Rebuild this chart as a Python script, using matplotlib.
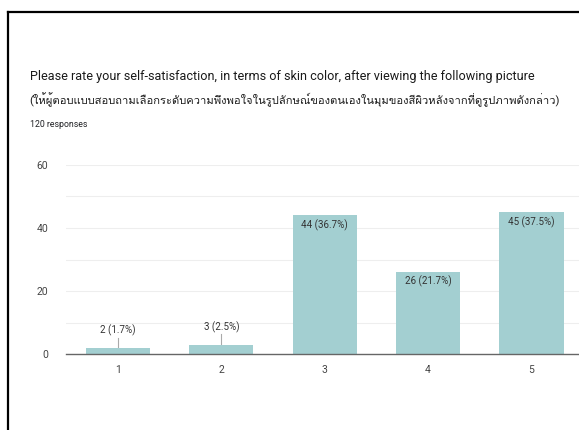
import matplotlib
matplotlib.use("Agg")
import matplotlib.pyplot as plt
from matplotlib import font_manager, ft2font

# survey results
ratings = ["1", "2", "3", "4", "5"]
counts = [2, 3, 44, 26, 45]
percents = ["1.7%", "2.5%", "36.7%", "21.7%", "37.5%"]
yticks = [0, 20, 40, 60]

title_en = "Please rate your self-satisfaction, in terms of skin color, after viewing the following picture"
title_th = "(ให้ผู้ตอบแบบสอบถามเลือกระดับความพึงพอใจในรูปลักษณ์ของตนเองในมุมของสีผิวหลังจากที่ดูรูปภาพดังกล่าว)"
subtitle = "120 responses"

# find something that can draw thai
thai_font = None
for f in font_manager.fontManager.ttflist:
    try:
        if ord("ก") in ft2font.FT2Font(f.fname).get_charmap():
            thai_font = f.name
            break
    except Exception:
        pass

fams = ["Roboto"] + ([thai_font] if thai_font else []) + ["DejaVu Sans"]
plt.rcParams["font.family"] = fams

fig = plt.figure(figsize=(5.79, 4.30), dpi=100)

# black frame around the card (left and top edges only visible)
fig.add_artist(plt.Line2D([0.0138, 0.0138], [0.0, 0.9720], color="black", lw=1.6))
fig.add_artist(plt.Line2D([0.0138, 1.0], [0.9720, 0.9720], color="black", lw=1.6))

t1 = fig.text(0.051, 0.815, title_en, fontsize=10, color="#1a1a1a", va="baseline")
t2 = fig.text(0.051, 0.757, title_th, fontsize=10, color="#1a1a1a", va="baseline")
t3 = fig.text(0.051, 0.705, subtitle, fontsize=6.5, color="#202124", va="baseline")

# shrink the header lines so they span the same width as in the screenshot
renderer = fig.canvas.get_renderer()
for t, target in [(t1, 503), (t2, 533), (t3, 58)]:
    w = t.get_window_extent(renderer).width
    t.set_fontsize(t.get_fontsize() * target / w)

ax = fig.add_axes([0.1145, 0.1767, 0.8928, 0.4396])
x = list(range(1, len(ratings) + 1))
ax.bar(x, counts, width=0.62, color="#a3cfd1", zorder=2)

for xi, c, p in zip(x, counts, percents):
    label = f"{c} ({p})"
    if c < 10:
        ax.plot([xi, xi], [c, c + 3.2], color="#aaaaaa", lw=0.8, zorder=1)
        ax.text(xi, c + 3.6, label, ha="center", va="bottom", fontsize=7, color="#333333")
    else:
        ax.text(xi, c - 1.2, label, ha="center", va="top", fontsize=7, color="#333333")

ax.set_xlim(0.5, 5.5)
ax.set_ylim(0, 60)
ax.set_xticks(x)
ax.set_xticklabels(ratings)
ax.set_yticks(yticks)
ax.set_yticks([10, 30, 50], minor=True)
ax.grid(axis="y", which="both", color="#eeeeee", lw=0.8, zorder=0)
for s in ["top", "right", "left"]:
    ax.spines[s].set_visible(False)
ax.spines["bottom"].set_color("#666666")
ax.spines["bottom"].set_linewidth(1.0)
ax.spines["bottom"].set_zorder(3)
ax.tick_params(axis="both", which="both", length=0, labelsize=7.5, colors="#444444")
ax.tick_params(axis="y", pad=13)
ax.tick_params(axis="x", pad=8)

fig.savefig("out.png", dpi=100)
